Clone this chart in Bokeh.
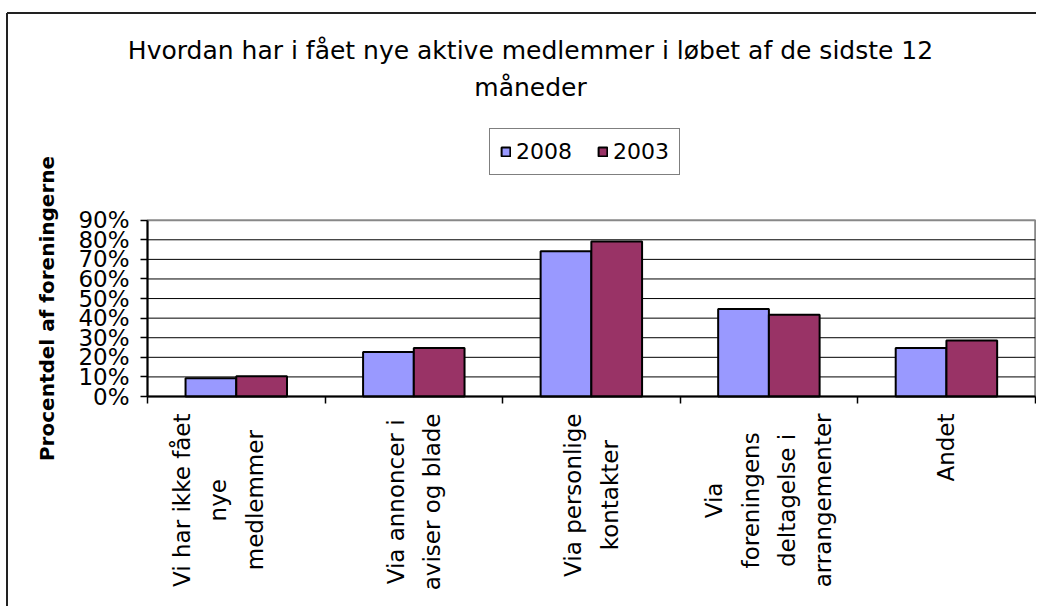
import math
from bokeh.plotting import figure
from bokeh.models import (ColumnDataSource, Range1d, FixedTicker, NumeralTickFormatter,
                          Legend, LegendItem, Label)
from bokeh.transform import dodge
from bokeh.embed import file_html
from bokeh.resources import INLINE

# ---------------- data ----------------
categories = [
    "Vi har ikke fået\nnye\nmedlemmer",
    "Via annoncer i\naviser og blade",
    "Via personlige\nkontakter",
    "Via\nforeningens\ndeltagelse i\narrangementer",
    "Andet",
]
series_names = ["2008", "2003"]
values_2008 = [0.093, 0.227, 0.742, 0.447, 0.248]
values_2003 = [0.103, 0.248, 0.791, 0.417, 0.286]
y_ticks = [0.0, 0.1, 0.2, 0.3, 0.4, 0.5, 0.6, 0.7, 0.8, 0.9]
title_lines = ["Hvordan har i fået nye aktive medlemmer i løbet af de sidste 12", "måneder"]
y_title = "Procentdel af foreningerne"

# ---------------- layout (pixels on the page) ----------------
FONT = "DejaVu Sans"
C2008 = "#9999FF"
C2003 = "#993366"
WIDTH, HEIGHT = 1036, 606
PX_L, PX_R, PX_T, PX_B = 147.0, 1034.7, 219.7, 396.0   # plot area edges
LABEL_DX = [-18, 0, 0, 0, 0]                          # px nudge of category label blocks

n = len(categories)
xs = list(range(n))
x_lo, x_hi = xs[0] - 0.5, xs[-1] + 0.5
y_lo, y_hi = y_ticks[0], y_ticks[-1]
W = (PX_R - PX_L) / (x_hi - x_lo)      # px per category
H = (PX_B - PX_T) / (y_hi - y_lo)      # px per unit


def fx(px):
    return x_lo + (px - PX_L) / W


def fy(py):
    return y_lo + (PX_B - py) / H


src = ColumnDataSource(dict(x=xs, v2008=values_2008, v2003=values_2003))

p = figure(width=WIDTH, height=HEIGHT,
           x_range=Range1d(fx(0), fx(WIDTH)), y_range=Range1d(fy(HEIGHT), fy(0)),
           output_backend="svg", toolbar_location=None, min_border=0)
p.background_fill_color = "white"
p.border_fill_color = "white"
p.outline_line_color = None
p.xgrid.visible = False
p.ygrid.visible = False

# outer chart border (only its top and left edges are inside the picture)
bx, by = fx(6.5), fy(12.5)
p.segment(x0=[bx, bx], y0=[by, by], x1=[fx(WIDTH), bx], y1=[by, fy(HEIGHT)],
          line_color="#222222", line_width=2)

# plot-area border (grey top / right)
p.quad(left=[x_lo], right=[x_hi], bottom=[y_lo], top=[y_hi],
       fill_color=None, line_color="#888888", line_width=2)
# horizontal gridlines
grid_y = y_ticks[1:-1]
p.segment(x0=[x_lo] * len(grid_y), x1=[x_hi] * len(grid_y), y0=grid_y, y1=grid_y,
          line_color="black", line_width=1)

bw = 1 / 3.5
r1 = p.vbar(x=dodge("x", -bw / 2, range=p.x_range), top="v2008", width=bw, source=src,
            fill_color=C2008, line_color="black", line_width=2)
r2 = p.vbar(x=dodge("x", bw / 2, range=p.x_range), top="v2003", width=bw, source=src,
            fill_color=C2003, line_color="black", line_width=2)

# y axis
ya = p.yaxis[0]
ya.fixed_location = x_lo
ya.bounds = (y_lo, y_hi)
ya.ticker = FixedTicker(ticks=y_ticks)
ya.formatter = NumeralTickFormatter(format="0%")
ya.axis_line_color = "black"
ya.axis_line_width = 2
ya.major_tick_out = 7
ya.major_tick_in = 0
ya.major_tick_line_color = "black"
ya.major_tick_line_width = 1.5
ya.minor_tick_line_color = None
ya.major_label_standoff = 11
ya.major_label_text_font = FONT
ya.major_label_text_font_size = "23px"
ya.major_label_text_color = "black"
ya.axis_label = y_title
ya.axis_label_text_font = FONT
ya.axis_label_text_font_size = "20px"
ya.axis_label_text_font_style = "bold"
ya.axis_label_text_color = "black"
ya.axis_label_standoff = 16

# x axis: tick marks at category boundaries
bounds_x = [i - 0.5 for i in range(n + 1)]
xa = p.xaxis[0]
xa.fixed_location = y_lo
xa.bounds = (x_lo, x_hi)
xa.ticker = FixedTicker(ticks=bounds_x)
xa.major_label_overrides = {b: "" for b in bounds_x}
xa.major_label_text_font_size = "0px"
xa.major_tick_out = 7
xa.major_tick_in = 0
xa.major_tick_line_color = "black"
xa.major_tick_line_width = 1.5
xa.minor_tick_line_color = None
xa.axis_line_color = "black"
xa.axis_line_width = 2

# category labels, rotated, top of each block just below the axis
for i, c, dx in zip(xs, categories, LABEL_DX):
    p.add_layout(Label(x=i, y=fy(413), x_offset=dx, text=c, angle=math.pi / 2,
                       anchor="center_right", text_align="center",
                       text_font=FONT, text_font_size="23px", text_color="black",
                       text_line_height=1.4))

# title (two centred lines)
p.add_layout(Label(x=fx(530), y=fy(50), text=title_lines[0],
                   text_align="center", text_baseline="alphabetic",
                   text_font=FONT, text_font_size="25px", text_color="black"))
p.add_layout(Label(x=fx(530), y=fy(87), text=title_lines[1],
                   text_align="center", text_baseline="alphabetic",
                   text_font=FONT, text_font_size="25px", text_color="black"))

# legend
legend = Legend(items=[LegendItem(label=series_names[0], renderers=[r1]),
                       LegendItem(label=series_names[1], renderers=[r2])],
                location=(489, HEIGHT - 175), orientation="horizontal",
                border_line_color="black", border_line_width=1,
                background_fill_color="white", background_fill_alpha=1,
                padding=10, spacing=25, label_standoff=5,
                glyph_width=11, glyph_height=11,
                label_text_font=FONT, label_text_font_size="22px",
                label_text_color="black", margin=0)
p.add_layout(legend, "center")

open("out.html", "w").write(file_html(p, INLINE))
